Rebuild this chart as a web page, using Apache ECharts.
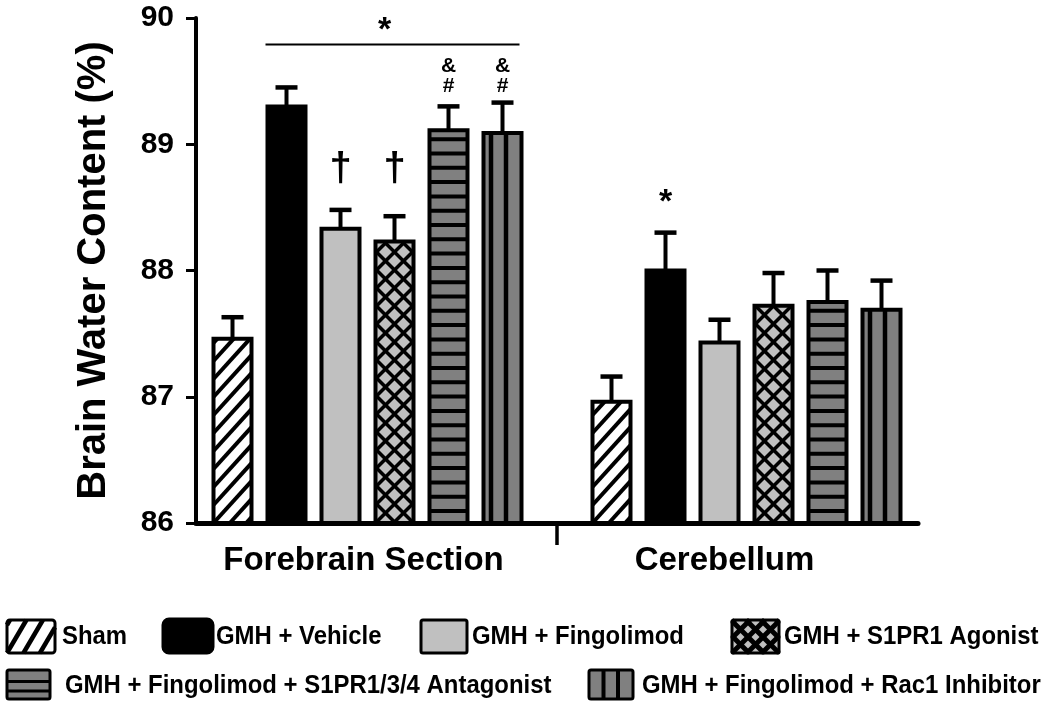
<!DOCTYPE html>
<html><head><meta charset="utf-8">
<script src="https://cdn.jsdelivr.net/npm/echarts@6/dist/echarts.min.js"></script>
<style>html,body{margin:0;padding:0;background:#fff}#chart{width:1050px;height:703px}</style>
</head><body><div id="chart"></div>
<script>
// ---------- DATA ----------
const regions = ['Forebrain Section', 'Cerebellum'];
const groups = ['Sham', 'GMH + Vehicle', 'GMH + Fingolimod', 'GMH + S1PR1 Agonist',
  'GMH + Fingolimod + S1PR1/3/4 Antagonist', 'GMH + Fingolimod + Rac1 Inhibitor'];
const meanSham        = [87.46, 86.96];
const meanVehicle     = [89.30, 88.00];
const meanFingolimod  = [88.33, 87.43];
const meanAgonist     = [88.23, 87.72];
const meanAntagonist  = [89.11, 87.75];
const meanRac1        = [89.09, 87.69];
const errSham         = [0.17, 0.20];
const errVehicle      = [0.15, 0.30];
const errFingolimod   = [0.15, 0.18];
const errAgonist      = [0.20, 0.26];
const errAntagonist   = [0.19, 0.25];
const errRac1         = [0.24, 0.23];
const yTicks = [86, 87, 88, 89, 90];
// significance marks: region index, group index, symbols (bottom to top)
const marks = [
  { region: 0, group: 2, text: ['†'] },
  { region: 0, group: 3, text: ['†'] },
  { region: 0, group: 4, text: ['#', '&'] },
  { region: 0, group: 5, text: ['#', '&'] },
  { region: 1, group: 1, text: ['*'] }
];
const brackets = [{ region: 0, from: 1, to: 5, text: '*' }];

// ---------- BUILD ----------
const means = [meanSham, meanVehicle, meanFingolimod, meanAgonist, meanAntagonist, meanRac1];
const errs = [errSham, errVehicle, errFingolimod, errAgonist, errAntagonist, errRac1];
const yMin = yTicks[0], yMax = yTicks[yTicks.length - 1];
const FONT = '"Liberation Sans", Arial, Helvetica, sans-serif';
const BAR_STEP = 54, BAR_W = 38, GROUP_SPREAD = 18;
const kinds = ['diag', 'solid', 'solid', 'cross', 'hstripe', 'vstripe'];
const fills = ['#ffffff', '#000000', '#c0c0c0', '#c0c0c0', '#808080', '#808080'];
const barPat = [
  { slope: 1.1, period: 18, lw: 4, border: 4 },
  { border: 4 },
  { border: 4 },
  { slope: 1, period: 18, lw: 3.5, border: 4 },
  { period: 14.3, offset: 12, lw: 4, border: 4 },
  { period: 15, offset: 7.5, lw: 4.5, border: 4 }
];
const iconPat = [
  { slope: 1.7, period: 28, lw: 4.5, border: 3, r: 3 },
  { border: 3, r: 6 },
  { border: 3, r: 2 },
  { slope: 1, period: 15, lw: 5, border: 3, r: 2 },
  { period: 9.5, offset: 8, lw: 3, border: 3, r: 2 },
  { period: 14.5, offset: 14.5, lw: 4, border: 3, r: 2 }
];
const legendLayout = [
  { x: 7, y: 620, w: 48, h: 33, tx: 62, ty: 637 },
  { x: 163, y: 619, w: 50, h: 34, tx: 216, ty: 637 },
  { x: 421, y: 620, w: 46, h: 33, tx: 472, ty: 637 },
  { x: 732, y: 620, w: 47, h: 33, tx: 784, ty: 637 },
  { x: 7, y: 670, w: 43, h: 29, tx: 65, ty: 686 },
  { x: 589, y: 670, w: 44, h: 29, tx: 642, ty: 686 }
];

function clipSeg(x1, y1, x2, y2, xmin, ymin, xmax, ymax) {
  let t0 = 0, t1 = 1; const dx = x2 - x1, dy = y2 - y1;
  const p = [-dx, dx, -dy, dy], q = [x1 - xmin, xmax - x1, y1 - ymin, ymax - y1];
  for (let i = 0; i < 4; i++) {
    if (p[i] === 0) { if (q[i] < 0) return null; }
    else {
      const r = q[i] / p[i];
      if (p[i] < 0) { if (r > t1) return null; if (r > t0) t0 = r; }
      else { if (r < t0) return null; if (r < t1) t1 = r; }
    }
  }
  return [x1 + t0 * dx, y1 + t0 * dy, x1 + t1 * dx, y1 + t1 * dy];
}

function patternEls(kind, fill, x, y, w, h, o) {
  const els = [{ type: 'rect', shape: { x, y, width: w, height: h, r: o.r || 0 }, style: { fill, lineWidth: 0 } }];
  const xl = x, xr = x + w, yt = y, yb = y + h;
  const line = (x1, y1, x2, y2) => {
    const s = clipSeg(x1, y1, x2, y2, xl, yt, xr, yb);
    if (s && Math.hypot(s[2] - s[0], s[3] - s[1]) > 0.5)
      els.push({ type: 'line', shape: { x1: s[0], y1: s[1], x2: s[2], y2: s[3] }, style: { stroke: '#000', lineWidth: o.lw, lineCap: 'butt' } });
  };
  if (kind === 'diag' || kind === 'cross') {
    const s = o.slope, p = o.period;
    const c0 = yb + s * xl;
    const cmin = yt + s * xl - p, cmax = yb + s * xr + p;
    for (let c = c0 - Math.ceil((c0 - cmin) / p) * p; c <= cmax; c += p) line(xl, c - s * xl, xr, c - s * xr);
    if (kind === 'cross') {
      const d0 = yb - s * xr;
      const dmin = yt - s * xr - p, dmax = yb - s * xl + p;
      for (let c = d0 - Math.ceil((d0 - dmin) / p) * p; c <= dmax; c += p) line(xl, c + s * xl, xr, c + s * xr);
    }
  } else if (kind === 'hstripe') {
    for (let yy = yb - o.offset; yy > yt + 2; yy -= o.period) line(xl, yy, xr, yy);
  } else if (kind === 'vstripe') {
    for (let xx = xl + o.offset; xx < xr - 2; xx += o.period) line(xx, yt, xx, yb);
  }
  els.push({ type: 'rect', shape: { x, y, width: w, height: h, r: o.r || 0 }, style: { fill: 'transparent', stroke: '#000', lineWidth: o.border } });
  return els;
}

function barCenter(api, ri, gi, v) {
  const p = api.coord([ri, v]);
  return [p[0] + (gi - 2.5) * BAR_STEP + (ri - 0.5) * GROUP_SPREAD, p[1]];
}

const barSeries = groups.map((name, gi) => ({
  type: 'custom',
  name,
  data: regions.map((r, ri) => [ri, means[gi][ri], errs[gi][ri]]),
  encode: { x: 0, y: 1 },
  z: 3,
  renderItem: (params, api) => {
    const ri = api.value(0), m = api.value(1), e = api.value(2);
    const [cx, yTop] = barCenter(api, ri, gi, m);
    const yBase = barCenter(api, ri, gi, yMin)[1];
    const yErr = barCenter(api, ri, gi, m + e)[1];
    const children = [
      { type: 'line', shape: { x1: cx, y1: yTop, x2: cx, y2: yErr }, style: { stroke: '#000', lineWidth: 4 } },
      { type: 'line', shape: { x1: cx - 11, y1: yErr, x2: cx + 11, y2: yErr }, style: { stroke: '#000', lineWidth: 4.5 } }
    ].concat(patternEls(kinds[gi], fills[gi], cx - BAR_W / 2, yTop, BAR_W, yBase - yTop, barPat[gi]));
    return { type: 'group', children };
  }
}));

// marks sharing the same symbols in a region sit on one common row
function markLevel(mk) {
  const key = mk.text.join('');
  return Math.max(...marks.filter(o => o.region === mk.region && o.text.join('') === key)
    .map(o => means[o.group][o.region] + errs[o.group][o.region]));
}
const markOffsets = { '†': 40, '*': 30, '#': 16, '&': 36 };
const markSizes = { '†': 40, '*': 34, '#': 21, '&': 21 };
const markSeries = {
  type: 'custom', name: 'marks', silent: true, z: 4,
  data: marks.map(mk => [mk.region, markLevel(mk)]),
  encode: { x: 0, y: 1 },
  renderItem: (params, api) => {
    const mk = marks[params.dataIndex];
    const [cx, yE] = barCenter(api, mk.region, mk.group, api.value(1));
    return {
      type: 'group',
      children: mk.text.map(t => ({
        type: 'text', x: cx, y: yE - markOffsets[t],
        style: { text: t, fill: '#000', font: 'bold ' + markSizes[t] + 'px ' + FONT, align: 'center', verticalAlign: 'middle' }
      }))
    };
  }
};

const bracketSeries = {
  type: 'custom', name: 'bracket', silent: true, z: 4,
  data: brackets.map(b => [b.region, Math.max(...means.slice(b.from, b.to + 1).map((m, k) => m[b.region] + errs[b.from + k][b.region]))]),
  encode: { x: 0, y: 1 },
  renderItem: (params, api) => {
    const b = brackets[params.dataIndex];
    const left = barCenter(api, b.region, b.from, yMin)[0] - BAR_W / 2 - 2;
    const right = barCenter(api, b.region, b.to, yMin)[0] + BAR_W / 2 - 2;
    const yL = api.coord([b.region, api.value(1)])[1] - 43;
    return {
      type: 'group',
      children: [
        { type: 'line', shape: { x1: left, y1: yL, x2: right, y2: yL }, style: { stroke: '#000', lineWidth: 2 } },
        { type: 'text', x: (left + right) / 2 - 8, y: yL - 14, style: { text: b.text, fill: '#000', font: 'bold 34px ' + FONT, align: 'center', verticalAlign: 'middle' } }
      ]
    };
  }
};

const dividerSeries = {
  type: 'custom', name: 'divider', silent: true, z: 4,
  data: [[0, yMin]],
  encode: { x: 0, y: 1 },
  renderItem: (params, api) => {
    const a = api.coord([0, yMin]), b = api.coord([1, yMin]);
    const x = (a[0] + b[0]) / 2;
    return { type: 'line', shape: { x1: x, y1: a[1], x2: x, y2: a[1] + 22 }, style: { stroke: '#000', lineWidth: 3.5 } };
  }
};

const legendGraphics = groups.map((name, gi) => {
  const L = legendLayout[gi];
  return {
    type: 'group', x: 0, y: 0,
    children: patternEls(kinds[gi], fills[gi], L.x, L.y, L.w, L.h, iconPat[gi]).concat([
      { type: 'text', x: L.tx, y: L.ty, scaleX: 0.92, style: { text: name, fill: '#000', font: 'bold 26px ' + FONT, align: 'left', verticalAlign: 'middle' } }
    ])
  };
});

const chart = echarts.init(document.getElementById('chart'));
chart.setOption({
  animation: false,
  backgroundColor: '#fff',
  grid: { left: 196, right: 132, top: 18, bottom: 180, containLabel: false },
  xAxis: {
    type: 'category', data: regions, boundaryGap: true,
    axisLine: { show: true, lineStyle: { color: '#000', width: 5 } },
    axisTick: { show: false },
    axisLabel: {
      margin: 21, color: '#000',
      formatter: v => '{a|' + v + '}',
      rich: { a: { fontFamily: FONT, fontWeight: 'bold', fontSize: 33, color: '#000', padding: [0, 26, 0, 0] } }
    },
    splitLine: { show: false }
  },
  yAxis: {
    type: 'value', min: yMin, max: yMax, interval: 1,
    name: 'Brain Water Content (%)', nameLocation: 'middle', nameGap: 82,
    nameTextStyle: { fontFamily: FONT, fontWeight: 'bold', fontSize: 40, color: '#000' },
    axisLine: { show: true, lineStyle: { color: '#000', width: 4 } },
    axisTick: { show: true, inside: false, length: 10, lineStyle: { color: '#000', width: 3 } },
    axisLabel: { margin: 22, fontFamily: FONT, fontWeight: 'bold', fontSize: 30, color: '#000' },
    splitLine: { show: false }
  },
  graphic: legendGraphics,
  series: barSeries.concat([markSeries, bracketSeries, dividerSeries])
});
</script>
</body></html>
